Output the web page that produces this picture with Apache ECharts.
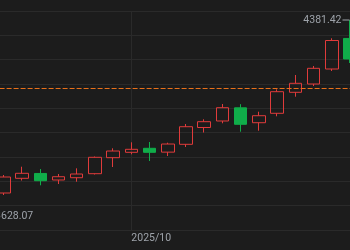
<!DOCTYPE html>
<html>
<head>
<meta charset="utf-8">
<script src="https://cdn.jsdelivr.net/npm/echarts@6/dist/echarts.min.js"></script>
<style>
html,body{margin:0;padding:0;background:#1c1c1c;overflow:hidden;width:350px;height:250px;position:relative;}
#c{position:absolute;left:-15px;top:0;width:365px;height:250px;}
</style>
</head>
<body>
<div id="c"></div>
<script>
// trading days
const categories = ['2025-09-19','2025-09-22','2025-09-23','2025-09-24','2025-09-25','2025-09-26','2025-09-29','2025-09-30',
  '2025-10-01','2025-10-02','2025-10-03','2025-10-06','2025-10-07','2025-10-08','2025-10-09','2025-10-10',
  '2025-10-13','2025-10-14','2025-10-15','2025-10-16','2025-10-17'];
const opens  = [3700.0, 3716.4, 3772.9, 3791.5, 3766.4, 3775.2, 3790.6, 3852.1, 3872.8, 3888.2, 3873.5, 3903.6, 3968.2, 3993.2, 4043.8, 3986.6, 4022.8, 4103.5, 4135.4, 4193.0, 4310.5];
const closes = [3712.0, 3777.9, 3792.1, 3763.7, 3779.0, 3789.4, 3853.6, 3877.8, 3884.4, 3872.8, 3904.7, 3971.2, 3990.5, 4044.3, 3980.5, 4013.5, 4105.8, 4138.1, 4195.7, 4302.6, 4231.5];
const lows   = [3628.07, 3708.7, 3764.4, 3746.0, 3751.0, 3759.8, 3787.5, 3816.3, 3865.1, 3839.4, 3858.6, 3893.2, 3948.9, 3984.3, 3952.0, 3955.9, 4011.2, 4086.6, 4127.7, 4185.4, 4216.1];
const highs  = [3721.0, 3785.6, 3817.5, 3808.6, 3789.4, 3811.3, 3856.7, 3888.2, 3911.3, 3912.4, 3909.7, 3981.6, 3999.7, 4058.5, 4057.9, 4028.9, 4115.0, 4170.0, 4204.6, 4311.1, 4381.42];
const maxLabel = '4381.42';
const minLabel = '3628.07';
const priceLine = 4119;
const monthLabelDate = '2025-10-01';

const ohlc = categories.map((c, i) => [opens[i], closes[i], lows[i], highs[i]]);
const textColor = '#9ea3aa';
const gridColor = '#2a2a2a';
const up = '#e03b3b', down = '#10ad4a';

const chart = echarts.init(document.getElementById('c'));
chart.setOption({
  backgroundColor: '#1c1c1c',
  animation: false,
  grid: {left: 0.6, right: 0, top: 11, bottom: 20},
  xAxis: {
    type: 'category',
    data: categories,
    boundaryGap: false,
    axisLine: {show: false},
    axisTick: {show: false},
    axisLabel: {
      interval: (i, v) => v === monthLabelDate,
      formatter: v => v.slice(0, 7).replace('-', '/'),
      color: textColor, fontSize: 10.5, fontFamily: 'Roboto',
      align: 'left', margin: 3
    },
    splitLine: {show: true, interval: (i, v) => v === monthLabelDate, lineStyle: {color: gridColor, width: 1}}
  },
  yAxis: [
    {type: 'value', min: 3574.2, max: 4416.0, scale: true,
     axisLine: {show: false}, axisTick: {show: false}, axisLabel: {show: false}, splitLine: {show: false}},
    {type: 'value', min: 0, max: 9, interval: 1,
     axisLine: {show: false}, axisTick: {show: false}, axisLabel: {show: false},
     splitLine: {show: true, lineStyle: {color: gridColor, width: 1}}}
  ],
  series: [{
    type: 'candlestick',
    data: ohlc,
    barWidth: 13,
    itemStyle: {color: 'transparent', color0: down, borderColor: up, borderColor0: down, borderWidth: 1},
    markLine: {
      silent: true, symbol: 'none', label: {show: false},
      lineStyle: {color: '#e8701a', type: [5, 2], width: 1},
      data: [{yAxis: priceLine}]
    },
    markPoint: {
      silent: true,
      data: [
        {coord: [categories[categories.length - 1], highs[highs.length - 1]], symbol: 'rect', symbolSize: [7, 1], symbolOffset: [-4, 0],
         itemStyle: {color: textColor},
         label: {show: true, position: 'left', distance: 1, formatter: maxLabel, color: textColor, fontSize: 10.5, fontFamily: 'Roboto'}},
        {coord: [categories[0], lows[0]], symbol: 'rect', symbolSize: [7, 1], symbolOffset: [4, 0],
         itemStyle: {color: textColor},
         label: {show: true, position: 'right', distance: 2, formatter: minLabel, color: textColor, fontSize: 10.5, fontFamily: 'Roboto'}}
      ]
    }
  }]
});
</script>
</body>
</html>
